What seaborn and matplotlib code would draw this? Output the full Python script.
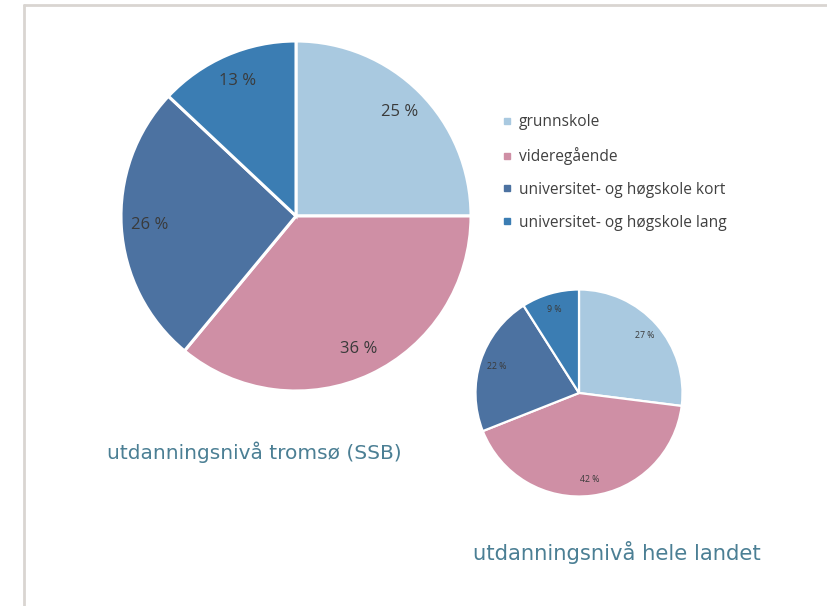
import matplotlib
matplotlib.use("Agg")
import matplotlib.pyplot as plt
from matplotlib.lines import Line2D
import seaborn as sns

# Data
categories = ["grunnskole", "videregående",
              "universitet- og høgskole kort", "universitet- og høgskole lang"]
tromso = [25, 36, 26, 13]
landet = [27, 42, 22, 9]
titles = ["utdanningsnivå tromsø (SSB)", "utdanningsnivå hele landet"]

colors = ["#a9c9e0", "#cf8fa5", "#4c72a1", "#3b7db3"]
title_color = "#4b7f94"
label_color = "#3a3a3a"

sns.set_style("white")
plt.rcParams['font.family'] = ['Open Sans', 'DejaVu Sans']

fig = plt.figure(figsize=(8.27, 6.06), dpi=100)
W, H = 827, 606

def add_pie(cx, cy, r, values, fsize):
    ax = fig.add_axes([(cx - r) / W, (H - cy - r) / H, 2 * r / W, 2 * r / H])
    ax.pie(values, colors=colors, startangle=90, counterclock=False,
           autopct=lambda p: f"{p:.0f} %", pctdistance=0.84,
           wedgeprops=dict(edgecolor="white", linewidth=2.2 if fsize > 8 else 1.6),
           textprops=dict(color=label_color, fontsize=fsize))
    ax.set_xlim(-1, 1)
    ax.set_ylim(-1, 1)
    ax.axis("off")
    return ax

add_pie(296, 216, 175, tromso, 12)
add_pie(579, 393, 103.5, landet, 6.3)

# Titles under pies
fig.text(107 / W, 1 - 452 / H, titles[0], color=title_color, fontsize=14.5,
         va="center", ha="left", family=['DejaVu Sans'])
fig.text(473 / W, 1 - 552 / H, titles[1], color=title_color, fontsize=15.2,
         va="center", ha="left", family=['DejaVu Sans'])

# Legend
handles = [Line2D([0], [0], marker="s", linestyle="", markersize=5,
                  markerfacecolor=c, markeredgecolor=c) for c in colors]
fig.legend(handles, categories, loc="upper left",
           bbox_to_anchor=(496 / W, 1 - 108 / H), frameon=False,
           fontsize=11.2, labelcolor="#404040", labelspacing=1.08,
           handlelength=0.6, handletextpad=0.45, borderaxespad=0)

# Frame lines (top and left)
fig.add_artist(Line2D([24 / W, 1], [1 - 4.5 / H, 1 - 4.5 / H], color="#d9d5d1", linewidth=2))
fig.add_artist(Line2D([24 / W, 24 / W], [0, 1 - 4.5 / H], color="#d9d5d1", linewidth=2))

fig.savefig("out.png", dpi=100, facecolor="white")
